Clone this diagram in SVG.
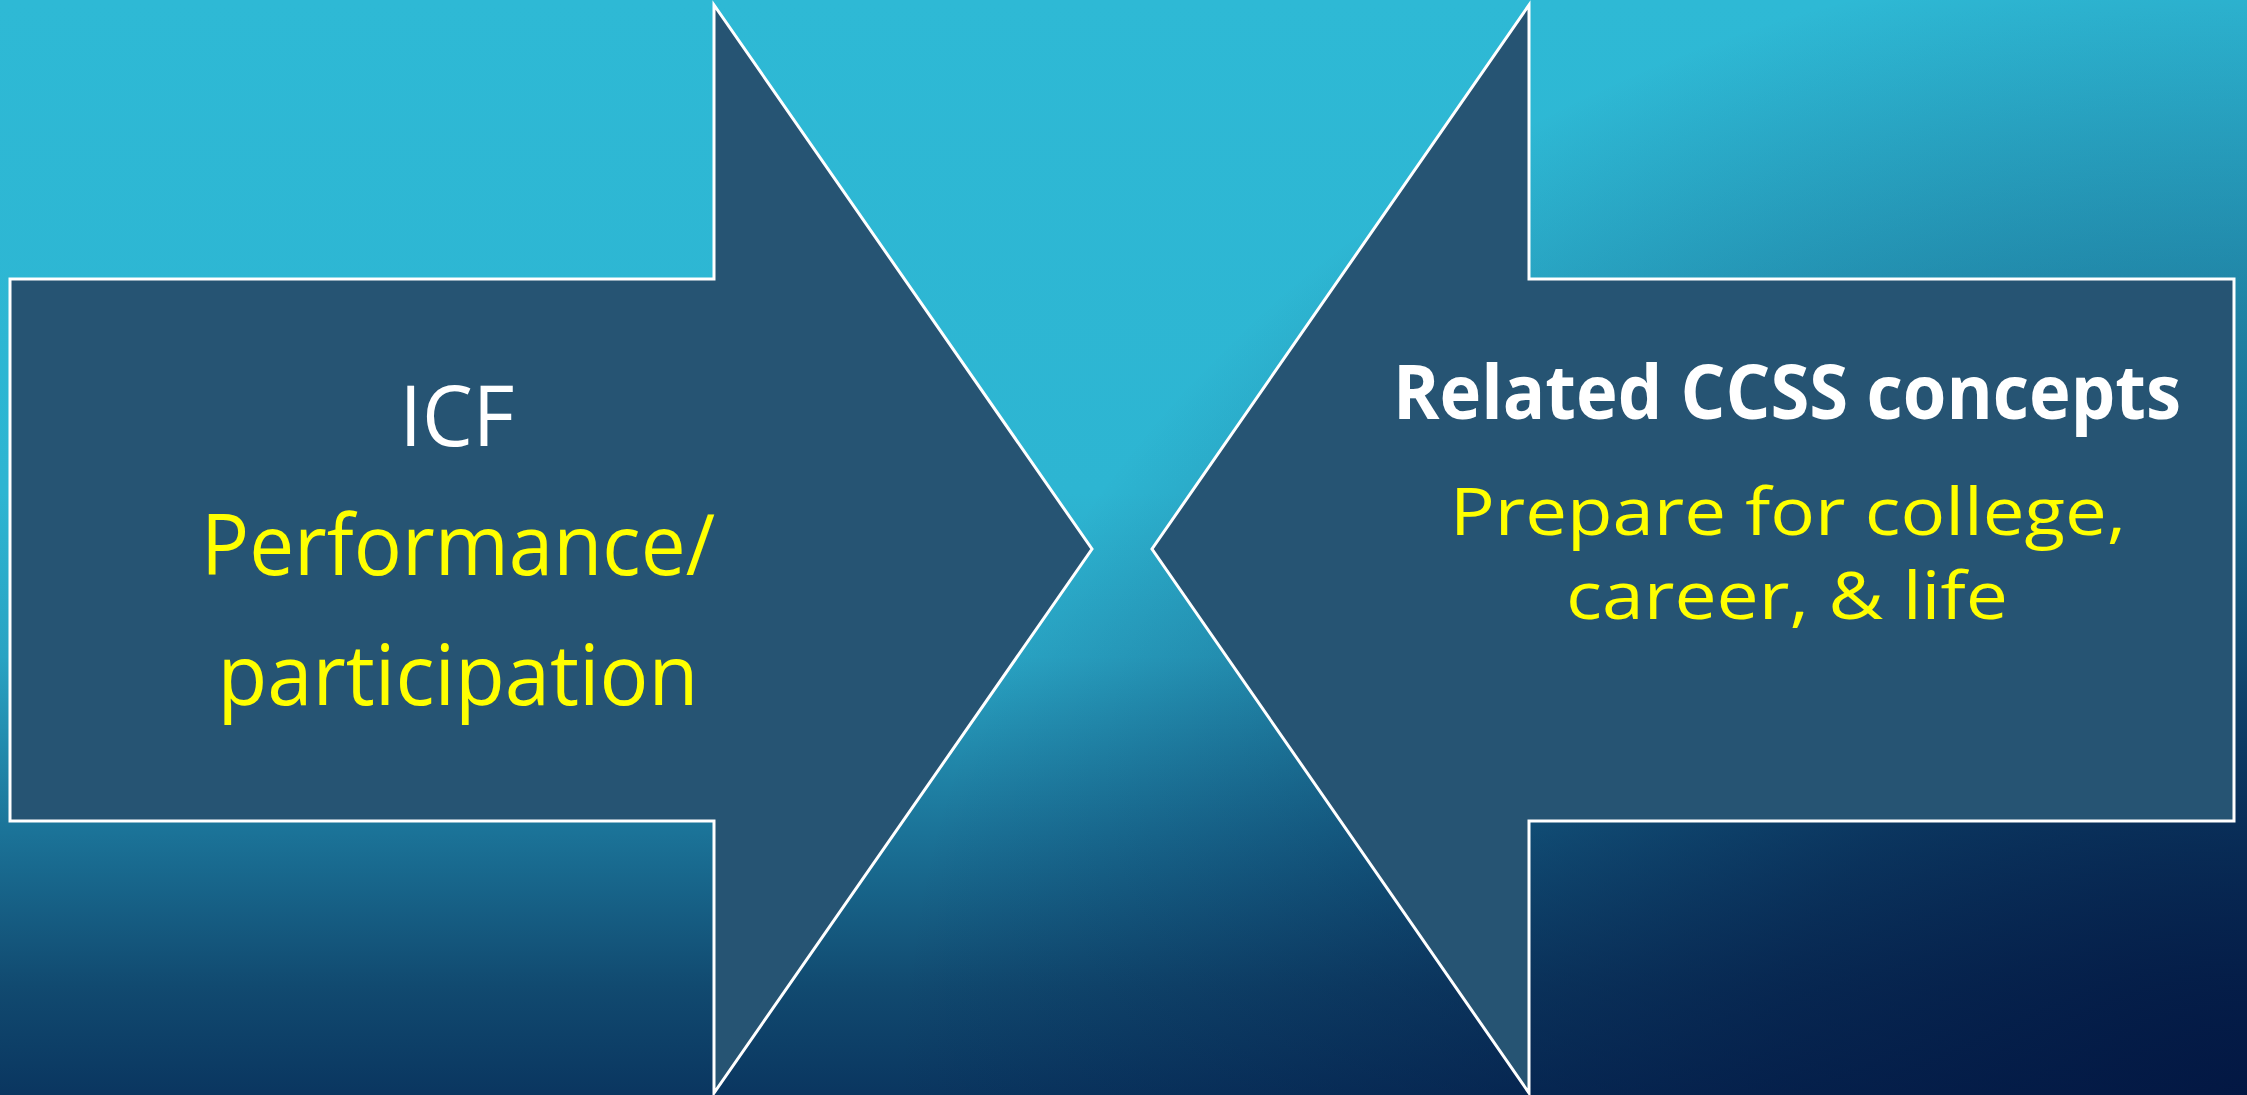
<svg xmlns="http://www.w3.org/2000/svg" width="2247" height="1095" viewBox="0 0 2247 1095">
<style>
.arrow{fill:#265473;stroke:#ffffff;stroke-width:3;stroke-linejoin:miter}
.t{font-family:"Open Sans","Liberation Sans",sans-serif;text-anchor:middle}
.w{fill:#ffffff}
.y{fill:#ffff00}
</style>
<defs>
<linearGradient id="bg" x1="0" y1="0" x2="0" y2="1095" gradientUnits="userSpaceOnUse">
<stop offset="0" stop-color="#2EB9D5"/>
<stop offset="0.45" stop-color="#2DB5D2"/>
<stop offset="0.6" stop-color="#29A3C3"/>
<stop offset="0.76" stop-color="#1B7398"/>
<stop offset="0.9" stop-color="#114A70"/>
<stop offset="1" stop-color="#0A3660"/>
</linearGradient>
<radialGradient id="dk" cx="2247" cy="1095" r="1350" gradientUnits="userSpaceOnUse" gradientTransform="translate(2247 1095) scale(1 0.85) translate(-2247 -1095)">
<stop offset="0" stop-color="#021440" stop-opacity="0.9"/>
<stop offset="0.35" stop-color="#021440" stop-opacity="0.65"/>
<stop offset="0.7" stop-color="#021440" stop-opacity="0.3"/>
<stop offset="1" stop-color="#021440" stop-opacity="0"/>
</radialGradient>
</defs>
<rect x="0" y="0" width="2247" height="1095" fill="url(#bg)"/>
<rect x="0" y="0" width="2247" height="1095" fill="url(#dk)"/>
<g id="left-arrow">
<polygon class="arrow" points="10,279 714,279 714,5 1092,549 714,1093 714,821 10,821"/>
<text class="t w" x="457" y="446" font-size="84" textLength="115" lengthAdjust="spacingAndGlyphs">ICF</text>
<text class="t y" x="458" y="575" font-size="84" textLength="514" lengthAdjust="spacingAndGlyphs">Performance/</text>
<text class="t y" x="458" y="705" font-size="84" textLength="481" lengthAdjust="spacingAndGlyphs">participation</text>
</g>
<g id="right-arrow">
<polygon class="arrow" points="2234,279 1529,279 1529,5 1152,549 1529,1093 1529,821 2234,821"/>
<text class="t w" x="1787" y="419" font-size="76" font-weight="bold" textLength="788" lengthAdjust="spacingAndGlyphs">Related CCSS concepts</text>
<text class="t y" x="1788" y="535" font-size="65" textLength="676" lengthAdjust="spacingAndGlyphs">Prepare for college,</text>
<text class="t y" x="1787" y="619" font-size="65" textLength="442" lengthAdjust="spacingAndGlyphs">career, &amp; life</text>
</g>
<g id="connectors"/>
</svg>
